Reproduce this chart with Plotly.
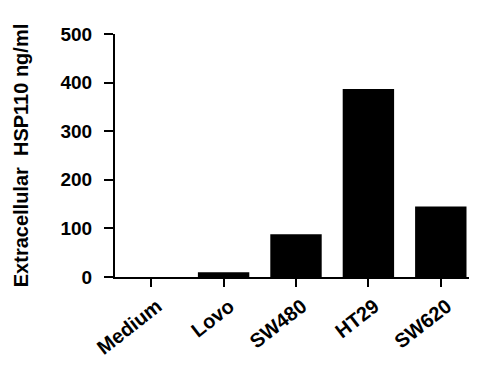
import plotly.graph_objects as go

categories = ["Medium", "Lovo", "SW480", "HT29", "SW620"]
values = [0, 10, 88, 387, 145]
y_ticks = [0, 100, 200, 300, 400, 500]

fig = go.Figure(go.Bar(x=categories, y=values, marker=dict(color="black", line=dict(width=0)), width=0.71))

font_family = "Liberation Sans, Arial, sans-serif"
# page body has an 8px default margin, so the figure is offset by 8px
fig.update_layout(
    width=469, height=357,
    margin=dict(l=107, r=0, t=26, b=88),
    paper_bgcolor="white", plot_bgcolor="white",
    showlegend=False,
    font=dict(family=font_family, color="black"),
)
fig.update_xaxes(
    range=[-0.5, 4.5], showline=True, linecolor="black", linewidth=2,
    ticks="outside", ticklen=8, tickwidth=1.5, tickcolor="black",
    tickangle=-38, tickfont=dict(size=20, family=font_family, weight="bold"),
    ticklabelshift=6,
    showgrid=False, automargin=False,
)
fig.update_yaxes(
    range=[0, 500], tickvals=y_ticks, showline=True, linecolor="black", linewidth=2,
    ticks="outside", ticklen=9, tickwidth=2, tickcolor="black",
    tickfont=dict(size=19, family=font_family, weight="bold"),
    ticklabelstandoff=8,
    showgrid=False, zeroline=False, automargin=False,
    title=dict(text="Extracellular  HSP110 ng/ml", font=dict(size=20, family=font_family, weight="bold"), standoff=26),
)
fig.write_html("out.html")
